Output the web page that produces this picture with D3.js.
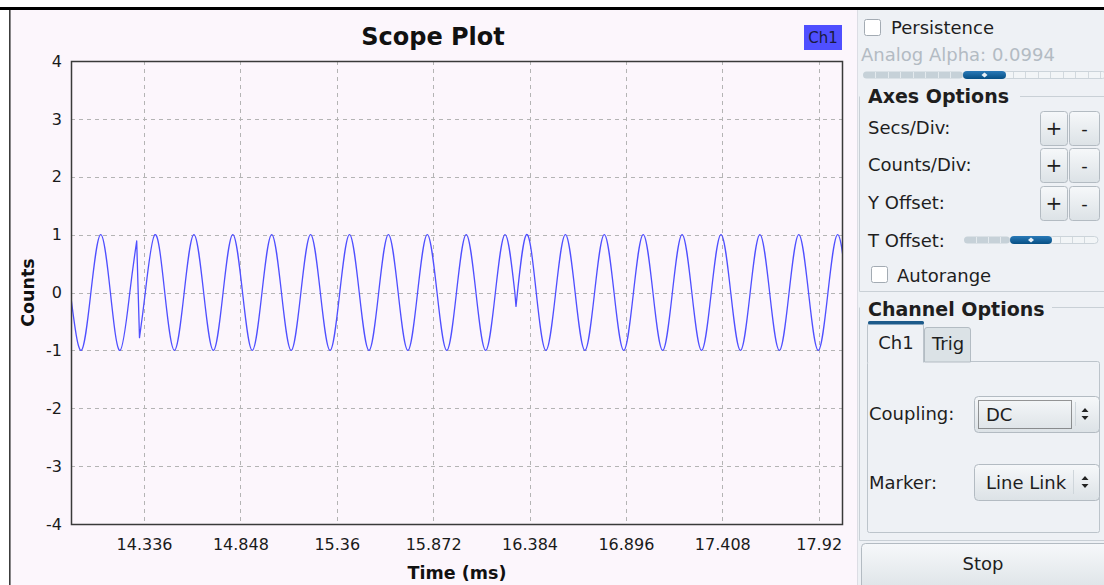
<!DOCTYPE html>
<html>
<head>
<meta charset="utf-8">
<script src="https://cdn.jsdelivr.net/npm/d3@7"></script>
<style>
  body { margin: 0; background: #ffffff; }
  svg { display: block; font-family: "DejaVu Sans", sans-serif; }
</style>
</head>
<body>
<svg id="scope" width="1104" height="585"></svg>
<script>
// ---- data -------------------------------------------------------------
const timeDomain = [13.948, 18.044];          // ms shown across the plot
const countDomain = [-4, 4];
const xTickValues = [14.336, 14.848, 15.36, 15.872, 16.384, 16.896, 17.408, 17.92];
const yTickValues = [-4, -3, -2, -1, 0, 1, 2, 3, 4];
const channelNames = ["Ch1"];

// Captured trace, one array per acquisition buffer: [time (ms), counts].
// Consecutive buffers are joined by a straight segment.
const buffer1 = [
  [13.949, -0.12], [14.0022, -1], [14.0537, 0], [14.1058, 1], [14.1573, 0],
  [14.2088, -1], [14.2604, 0], [14.2970, 0.89]
];
const buffer2 = [
  [14.3119, -0.78], [14.3427, 0],
  [14.3943, 1], [14.4460, 0], [14.4976, -1], [14.5493, 0],
  [14.6010, 1], [14.6527, 0], [14.7043, -1], [14.7560, 0],
  [14.8076, 1], [14.8593, 0], [14.9109, -1], [14.9626, 0],
  [15.0143, 1], [15.0660, 0], [15.1176, -1], [15.1693, 0],
  [15.2209, 1], [15.2726, 0], [15.3242, -1], [15.3759, 0],
  [15.4276, 1], [15.4793, 0], [15.5309, -1], [15.5826, 0],
  [15.6343, 1], [15.6860, 0], [15.7376, -1], [15.7893, 0],
  [15.8409, 1], [15.8926, 0], [15.9442, -1], [15.9959, 0],
  [16.0476, 1], [16.0993, 0], [16.1509, -1], [16.2026, 0],
  [16.2542, 1], [16.3059, 0]
];
const buffer3 = [
  [16.3121, -0.24],
  [16.3679, 1], [16.4196, 0], [16.4712, -1], [16.5229, 0],
  [16.5746, 1], [16.6263, 0], [16.6779, -1], [16.7296, 0],
  [16.7812, 1], [16.8329, 0], [16.8845, -1], [16.9362, 0],
  [16.9879, 1], [17.0396, 0], [17.0912, -1], [17.1429, 0],
  [17.1945, 1], [17.2462, 0], [17.2978, -1], [17.3495, 0],
  [17.4012, 1], [17.4529, 0], [17.5045, -1], [17.5562, 0],
  [17.6079, 1], [17.6596, 0], [17.7112, -1], [17.7629, 0],
  [17.8145, 1], [17.8662, 0], [17.9178, -1], [17.9695, 0],
  [18.0212, 1], [18.0729, 0]
];
const buffers = [buffer1, buffer2, buffer3];

// ---- layout -----------------------------------------------------------
const svg = d3.select("#scope");
const plot = { left: 71, top: 61, right: 842, bottom: 524 };
const panelX = 858;

const x = d3.scaleLinear().domain(timeDomain).range([plot.left, plot.right]);
const y = d3.scaleLinear().domain(countDomain).range([plot.bottom, plot.top]);

// window backgrounds
svg.append("rect").attr("x", 10).attr("y", 10).attr("width", panelX - 10).attr("height", 575).attr("fill", "#fcf6fc");
svg.append("rect").attr("x", panelX).attr("y", 10).attr("width", 1104 - panelX).attr("height", 575).attr("fill", "#eef1f5");
svg.append("line").attr("x1", panelX - 0.5).attr("x2", panelX - 0.5).attr("y1", 10).attr("y2", 585)
  .attr("stroke", "#dcdde4").attr("stroke-width", 1);
svg.append("rect").attr("x", 0).attr("y", 7).attr("width", 1104).attr("height", 3).attr("fill", "#000");
svg.append("rect").attr("x", 9).attr("y", 10).attr("width", 1.6).attr("height", 575).attr("fill", "#3c3c3c");

// ---- plot ---------------------------------------------------------------
svg.append("text").attr("x", 433).attr("y", 45).attr("text-anchor", "middle")
  .attr("font-size", 24).attr("font-weight", "bold").attr("fill", "#111").text("Scope Plot");

// grid
const grid = svg.append("g").attr("stroke", "#b4b4b4").attr("stroke-width", 1).attr("stroke-dasharray", "4,4");
grid.selectAll("line.v").data(xTickValues).join("line").attr("class", "v")
  .attr("x1", d => Math.round(x(d)) + 0.5).attr("x2", d => Math.round(x(d)) + 0.5)
  .attr("y1", plot.top).attr("y2", plot.bottom);
grid.selectAll("line.h").data(yTickValues.filter(d => d > countDomain[0] && d < countDomain[1])).join("line").attr("class", "h")
  .attr("y1", d => Math.round(y(d)) + 0.5).attr("y2", d => Math.round(y(d)) + 0.5)
  .attr("x1", plot.left).attr("x2", plot.right);

// axes
const xAxis = d3.axisBottom(x).tickValues(xTickValues).tickFormat(d => String(d)).tickSize(0).tickPadding(15);
const yAxis = d3.axisLeft(y).tickValues(yTickValues).tickFormat(d => String(d)).tickSize(0).tickPadding(9);
const gx = svg.append("g").attr("transform", `translate(0,${plot.bottom})`).call(xAxis);
const gy = svg.append("g").attr("transform", `translate(${plot.left},0)`).call(yAxis);
[gx, gy].forEach(g => {
  g.select(".domain").remove();
  g.selectAll("text").attr("font-size", 16).attr("fill", "#1a1a1a").attr("font-family", "DejaVu Sans, sans-serif");
});

svg.append("text").attr("x", 457).attr("y", 579).attr("text-anchor", "middle")
  .attr("font-size", 17.5).attr("font-weight", "bold").attr("fill", "#111").text("Time (ms)");
svg.append("text").attr("transform", `translate(34,${(plot.top + plot.bottom) / 2}) rotate(-90)`)
  .attr("text-anchor", "middle").attr("font-size", 17.5).attr("font-weight", "bold").attr("fill", "#111").text("Counts");

// trace
svg.append("clipPath").attr("id", "plotClip").append("rect")
  .attr("x", plot.left).attr("y", plot.top).attr("width", plot.right - plot.left).attr("height", plot.bottom - plot.top);
const traceLine = d3.line().x(d => x(d[0])).y(d => y(d[1])).curve(d3.curveNatural);
const tracePath = buffers.map((b, i) => i === 0 ? traceLine(b) : traceLine(b).replace(/^M/, "L")).join("");
svg.append("path").attr("d", tracePath).attr("clip-path", "url(#plotClip)")
  .attr("fill", "none").attr("stroke", "#4f4fff").attr("stroke-width", 1.3).attr("stroke-linejoin", "round");

// frame
svg.append("rect").attr("x", plot.left + 0.5).attr("y", plot.top + 0.5)
  .attr("width", plot.right - plot.left).attr("height", plot.bottom - plot.top)
  .attr("fill", "none").attr("stroke", "#3a3a3a").attr("stroke-width", 1.5);

// legend
const legend = svg.append("g").selectAll("g").data(channelNames).join("g");
legend.append("rect").attr("x", 804).attr("y", 25).attr("width", 38).attr("height", 25).attr("fill", "#4f4fff");
legend.append("text").attr("x", 823).attr("y", 43).attr("text-anchor", "middle")
  .attr("font-size", 15).attr("fill", "#1a1a40").text(d => d);

// ---- control panel ------------------------------------------------------
const panel = svg.append("g").attr("font-size", 18).attr("fill", "#1e1e1e");
const defs = svg.append("defs");
const btnGrad = defs.append("linearGradient").attr("id", "btnGrad").attr("x1", 0).attr("x2", 0).attr("y1", 0).attr("y2", 1);
btnGrad.append("stop").attr("offset", "0%").attr("stop-color", "#f6f8fa");
btnGrad.append("stop").attr("offset", "100%").attr("stop-color", "#dce2e6");
const knobGrad = defs.append("linearGradient").attr("id", "knobGrad").attr("x1", 0).attr("x2", 0).attr("y1", 0).attr("y2", 1);
knobGrad.append("stop").attr("offset", "0%").attr("stop-color", "#2a7ab8");
knobGrad.append("stop").attr("offset", "100%").attr("stop-color", "#064f84");

function label(x0, y0, txt, opts = {}) {
  return panel.append("text").attr("x", x0).attr("y", y0).text(txt)
    .attr("font-weight", opts.bold ? "bold" : null)
    .attr("font-size", opts.size || null)
    .attr("fill", opts.color || "#1e1e1e")
    .attr("text-anchor", opts.anchor || "start");
}
function checkbox(x0, y0) {
  panel.append("rect").attr("x", x0 + 0.5).attr("y", y0 + 0.5).attr("width", 16).attr("height", 16).attr("rx", 2)
    .attr("fill", "#ffffff").attr("stroke", "#a3abb3");
}
function button(x0, y0, w, h, txt, size) {
  panel.append("rect").attr("x", x0 + 0.5).attr("y", y0 + 0.5).attr("width", w).attr("height", h).attr("rx", 3)
    .attr("fill", "url(#btnGrad)").attr("stroke", "#b3bbc2");
  panel.append("text").attr("x", x0 + w / 2 + 0.5).attr("y", y0 + h / 2 + 7).attr("text-anchor", "middle")
    .attr("font-size", size || 18).text(txt);
}
function slider(x0, x1, yc, h0, h1, ticks) {
  panel.append("rect").attr("x", x0).attr("y", yc - 3.5).attr("width", h0 - x0).attr("height", 7).attr("rx", 3.5).attr("fill", "#c6d1d8");
  panel.append("rect").attr("x", h1 - 3).attr("y", yc - 3.5).attr("width", x1 - h1 + 3).attr("height", 7).attr("rx", 3.5)
    .attr("fill", "#f2f5f7").attr("stroke", "#c3ccd3").attr("stroke-width", 0.8);
  ticks.forEach(t => {
    panel.append("line").attr("x1", t + 0.5).attr("x2", t + 0.5).attr("y1", yc - 3).attr("y2", yc + 3)
      .attr("stroke", t < h0 ? "#e4eaee" : "#d2d9de").attr("stroke-width", 1);
  });
  panel.append("rect").attr("x", h0).attr("y", yc - 4).attr("width", h1 - h0).attr("height", 8).attr("rx", 4).attr("fill", "url(#knobGrad)");
  const c = (h0 + h1) / 2;
  panel.append("path").attr("d", `M${c - 3},${yc} L${c},${yc - 2.5} L${c + 3},${yc} L${c},${yc + 2.5} Z`).attr("fill", "#e8f0f6");
}
function combo(x0, y0, w, h, txt, sep, focus) {
  panel.append("rect").attr("x", x0 + 0.5).attr("y", y0 + 0.5).attr("width", w).attr("height", h).attr("rx", 4)
    .attr("fill", "url(#btnGrad)").attr("stroke", "#b3bbc2");
  if (focus) {
    panel.append("rect").attr("x", x0 + 4.5).attr("y", y0 + 4.5).attr("width", sep - x0 - 8).attr("height", h - 8)
      .attr("fill", "none").attr("stroke", "#333").attr("stroke-width", 1).attr("stroke-dasharray", "1,1");
  }
  panel.append("line").attr("x1", sep + 0.5).attr("x2", sep + 0.5).attr("y1", y0 + 6).attr("y2", y0 + h - 6)
    .attr("stroke", "#cfd6db");
  panel.append("text").attr("x", x0 + 12).attr("y", y0 + h / 2 + 7).text(txt);
  const ax = x0 + w - 14, ay = y0 + h / 2;
  panel.append("path").attr("d", `M${ax - 3.5},${ay - 2} L${ax},${ay - 6} L${ax + 3.5},${ay - 2} Z M${ax - 3.5},${ay + 2} L${ax},${ay + 6} L${ax + 3.5},${ay + 2} Z`)
    .attr("fill", "#222");
}

// persistence block
checkbox(864, 19);
label(891, 34, "Persistence");
label(861, 61, "Analog Alpha: 0.0994", { color: "#b3bbc3" });
slider(863, 1106, 75, 963, 1006, d3.range(875, 1104, 12.5).map(Math.round));

// axes options group
panel.append("path").attr("d", "M1020,96.5 H1104 M859.5,96.5 V291.5 H1104").attr("fill", "none").attr("stroke", "#c9d0d6");
panel.append("rect").attr("x", 862).attr("y", 86).attr("width", 156).attr("height", 20).attr("fill", "#eef1f5");
label(868, 103, "Axes Options", { bold: true, size: 19 });
label(868, 134, "Secs/Div:");
label(868, 171, "Counts/Div:");
label(868, 209, "Y Offset:");
[[111], [148], [186]].forEach(([by]) => {
  button(1040, by, 27, 34, "+", 20);
  button(1069, by, 30, 34, "-", 18);
});
label(868, 247, "T Offset:");
slider(964, 1098, 240, 1010, 1052, d3.range(976, 1096, 12).map(Math.round));
checkbox(871, 266);
label(897, 282, "Autorange");

// channel options group
panel.append("path").attr("d", "M1052,307.5 H1104 M859.5,307.5 V540.5 H1104").attr("fill", "none").attr("stroke", "#c9d0d6");
panel.append("rect").attr("x", 862).attr("y", 297).attr("width", 188).attr("height", 20).attr("fill", "#eef1f5");
label(868, 316, "Channel Options", { bold: true, size: 19 });

// tab pane
panel.append("rect").attr("x", 867.5).attr("y", 361.5).attr("width", 232).attr("height", 171).attr("rx", 2)
  .attr("fill", "#eef1f5").attr("stroke", "#bcc4cb");
panel.append("path").attr("d", "M924.5,362 V330 Q924.5,327.5 927,327.5 H968 Q970.5,327.5 970.5,330 V362 Z")
  .attr("fill", "#dbe2e6").attr("stroke", "#b3bcc3");
panel.append("path").attr("d", "M867.5,362.5 V326 Q867.5,322.5 871,322.5 H920 Q923.5,322.5 923.5,326 V362.5")
  .attr("fill", "#eef1f5").attr("stroke", "#bcc4cb");
panel.append("rect").attr("x", 868).attr("y", 321).attr("width", 56).attr("height", 3.5).attr("rx", 1.5).attr("fill", "#1c5a8a");
panel.append("rect").attr("x", 868.5).attr("y", 360).attr("width", 54.5).attr("height", 3).attr("fill", "#eef1f5");
label(896, 349, "Ch1", { anchor: "middle" });
label(948, 350, "Trig", { anchor: "middle" });

label(869, 420, "Coupling:");
combo(974, 396, 125, 36, "DC", 1075, true);
label(869, 489, "Marker:");
combo(974, 464, 125, 36, "Line Link", 1073, false);

// stop button
panel.append("rect").attr("x", 861.5).attr("y", 543.5).attr("width", 250).attr("height", 50).attr("rx", 4)
  .attr("fill", "url(#btnGrad)").attr("stroke", "#b3bbc2");
label(983, 570, "Stop", { anchor: "middle" });
</script>
</body>
</html>
